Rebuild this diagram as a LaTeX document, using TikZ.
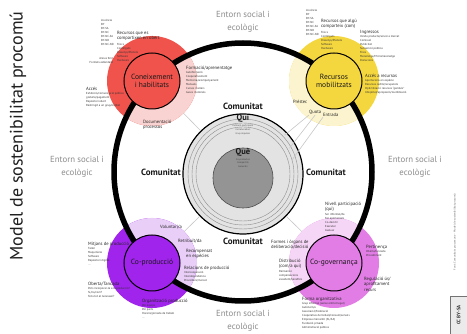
\documentclass[tikz,border=0pt]{standalone}
\usepackage{fontspec}
\setmainfont{PT Sans}
\usetikzlibrary{positioning, calc}

\definecolor{redhub}{HTML}{F0534C}
\definecolor{redpale}{HTML}{F9D3D1}
\definecolor{yellowhub}{HTML}{F4D63E}
\definecolor{yellowpale}{HTML}{FCF4CE}
\definecolor{purplehub}{HTML}{A024EC}
\definecolor{purplepale}{HTML}{E9CEF7}
\definecolor{pinkhub}{HTML}{E37DE6}
\definecolor{pinkpale}{HTML}{F6D6F7}
\definecolor{entorn}{HTML}{8C8C8C}

\tikzset{
  hub/.style={circle, draw=black, line width=1pt, minimum size=56pt, inner sep=0pt,
    align=center, text=black!90, font=\fontsize{7.5}{8.6}\selectfont},
  halo/.style 2 args={circle, minimum size=90pt, inner sep=0pt, fill=#1,
    path picture={\fill[#2] (ctr) circle (129pt);}},
  head/.style={anchor=north west, align=left, inner sep=0pt, text=black!85,
    font=\fontsize{4.6}{5.3}\selectfont},
  items/.style={anchor=north west, align=left, inner sep=0pt, text=black!80,
    font=\fontsize{2.9}{4.1}\selectfont},
  entornlbl/.style={text=entorn, align=center, font=\fontsize{8.8}{12.5}\selectfont},
  comlbl/.style={text=black!90, font=\fontsize{9}{10}\selectfont\bfseries},
  guide/.style={draw=black!22, line width=0.6pt},
}

\begin{document}
\begin{tikzpicture}[x=1pt,y=-1pt]
\useasboundingbox (0,0) rectangle (467,334);
\fill[white] (0,0) rectangle (467,334);

% centres
\coordinate (ctr) at (243,172);
\coordinate (cen) at (243,174);

% Title and surroundings
\node[rotate=90, text=black!88, font=\fontsize{18}{20}\selectfont] (title) at (18,136) {Model de sostenibilitat procomú};
\node[entornlbl] (entornN) at (243,22) {Entorn social i\\ecològic};
\node[entornlbl] (entornW) at (77,167) {Entorn social i\\ecològic};
\node[entornlbl] (entornE) at (415,167) {Entorn social i\\ecològic};
\node[entornlbl] (entornS) at (243,321) {Entorn social i\\ecològic};

% Halos: strong outside the ring, pale inside
\node[halo={redhub}{redpale}] (haloA) at (152,81) {};
\node[halo={yellowhub}{yellowpale}] (haloB) at (334,81) {};
\node[halo={purplehub}{purplepale}] (haloC) at (152,263) {};
\node[halo={pinkhub}{pinkpale}] (haloD) at (334,263) {};

% Ring
\draw[line width=5.5pt] (ctr) circle (129pt);

% Hubs
\node[hub, fill=redhub] (coneixement) at (haloA) {Coneixement\\i habilitats};
\node[hub, fill=yellowhub] (recursos) at (haloB) {Recursos\\mobilitzats};
\node[hub, fill=purplehub] (coproduccio) at (haloC) {Co-producció};
\node[hub, fill=pinkhub] (cogovernanca) at (haloD) {Co-governança};

% Centre: qui / que
\node[circle, fill=black!11, draw=black, line width=1.2pt, minimum size=120pt, inner sep=0pt] (quicircle) at (cen) {};
\foreach \r in {55,51,47}
  \draw[black!45, line width=0.4pt] (cen) circle (\r pt);
\node[circle, fill=black!42, draw=black!70, line width=0.6pt, minimum size=60pt, inner sep=0pt] (quecircle) at (243,178) {};
\node[comlbl, font=\fontsize{8.5}{9}\selectfont\bfseries] (qui) at (243,118) {Qui};
\node[align=center, inner sep=0pt, text=black!70, font=\fontsize{2.4}{4}\selectfont] (quilist) at (243,130)
  {Població participant\\Col·laboradors\\Grup impulsor};
\node[comlbl, font=\fontsize{8.5}{9}\selectfont\bfseries] (que) at (243,152) {Què};
\node[align=center, inner sep=0pt, text=black!75, font=\fontsize{2.4}{3.5}\selectfont] (quelist) at (243,163)
  {Co-productes\\Compartits\\Generats};

% Guide lines
\coordinate (y1) at ($(cen)+(43:57pt)$);
\coordinate (y2) at ($(cen)+(29:53pt)$);
\coordinate (y3) at ($(cen)+(16:51pt)$);
\node[head] (prestec) at (293,99.5) {Préstec};
\node[head] (quota) at (309,110.5) {Quota};
\node[head] (entrada) at (323,113.5) {Entrada};
\draw[guide] (quicircle) -- (haloA);
\draw[guide] (quicircle) -- (haloC);
\draw[guide] (quicircle) -- (haloD);
\draw[guide] (y1) -- (quota.south west);
\draw[guide] (y2) -- (quota.south);
\draw[guide] (y3) -- (entrada.south west);

% Comunitat
\node[comlbl] (comN) at (243,106) {Comunitat};
\node[comlbl] (comW) at (161,172) {Comunitat};
\node[comlbl] (comE) at (326,172) {Comunitat};
\node[comlbl] (comS) at (243,241) {Comunitat};

% Coneixement i habilitats
\node[items] at (101,19) {Llicència\\BY\\BY-SA\\BY-NC\\BY-NC-SA\\BY-ND\\BY-NC-ND};
\node[head] at (117,31) {Recursos que es\\compartixen en obert};
\node[items] at (117,43) {Físics\\Continguts\\Dissenys/Plànols\\Software\\Hardware};
\node[items, anchor=north east, align=right] at (113,57) {Arxius font\\Formats estàndard};
\node[head] at (186,66) {Formació/aprenentatge};
\node[items] at (186,71) {Autoformació\\Cooperativament\\Mentoria/acompanyament\\Manuals\\Cursos i tallers\\Guies i tutorials};
\node[head] at (86,87) {Accés};
\node[items] at (86,92) {Exhibició/comunicació pública\\gratuïta/pagament\\Repositori obert\\Restringit a un grup/entitat};
\node[head] at (143,120) {Documentació\\processos};

% Recursos mobilitzats
\node[items] at (306,9) {Llicència\\BY\\BY-SA\\BY-NC\\BY-NC-SA\\BY-ND\\BY-NC-ND};
\node[head] at (321,19) {Recursos que algú\\comparteix (com)};
\node[items] at (321,31) {Físics\\Continguts\\Dissenys/Plànols\\Software\\Hardware};
\node[head] at (360,30) {Ingressos};
\node[items] at (360,35) {Venda producte/servei a mercat\\Comissió\\Publicitat\\Subvenció pública\\Fires\\Mecenatge/Micromecenatge\\Donacions};
\node[head] at (365,74) {Accés a recursos};
\node[items] at (365,79) {Aportacions en espècie\\Recursos cedits/recuperats\\Optimització recursos ``ganduls''\\Ubiqüitat/apropiació/reutilització};

% Co-producció
\node[head] at (160,225) {Voluntari/a};
\node[head] at (178,239) {Retribuït/da};
\node[head] at (186,249) {Recompensat\\en espècies};
\node[head] at (184,266) {Relacions de producció};
\node[items] at (184,271) {Intercooperació\\Interdependència\\Proveïdors/mercat};
\node[head] at (88,242) {Mitjans de producció};
\node[items] at (88,247) {Taller\\Maquinària\\Software\\Repositori digital\\...};
\node[head] at (88,282) {Oberta/Tancada};
\node[items] at (88,287) {Pots incorporar-te a la producció?\\Sí/no/com?\\Tens tot el necessari?};
\node[head] at (142,299) {Organització producció};
\node[items] at (142,304) {Per equips\\Per parts\\Horaris/jornada de treball\\...};

% Co-governança
\node[head] at (325,202) {Nivell participació\\(qui)};
\node[items] at (325,213) {Ser informat/da\\Fer aportacions\\Co-decidir\\Executar\\Avaluar};
\node[head] at (271,240) {Formes i òrgans de\\deliberació/decisió};
\node[head] at (279,259) {Distribució\\(com/a qui)};
\node[items] at (279,270) {Reinversió\\compensacions\\excedent/beneficis};
\node[head] at (366,245) {Pertinença};
\node[items] at (366,250) {Oberta/tancada\\Procediment};
\node[head] at (364,277) {Regulació ús/\\aprofitament\\recurs};
\node[head] at (302,297) {Forma organitzativa};
\node[items] at (302,302) {Grup informal (sense entitat legal)\\Autònom/a\\Associació/Federació\\Cooperativa de treball/consum/serveis\\Empresa mercantil (SL/SA)\\Fundació privada\\Administració pública};

% Credits on the right edge
\node[rotate=90, inner sep=0pt, text=black!60, font=\fontsize{2.8}{3}\selectfont] (credits) at (455,232)
  {Font: Comunitats procomuns -- Model de sostenibilitat procomú};
\draw[black!55, fill=black!8, line width=0.5pt] (450,296) rectangle (467,334);
\node[rotate=90, inner sep=0pt, text=black!80, font=\fontsize{5}{5}\selectfont\bfseries] (llicencia) at (458.5,315) {CC BY-SA};
\end{tikzpicture}
\end{document}
